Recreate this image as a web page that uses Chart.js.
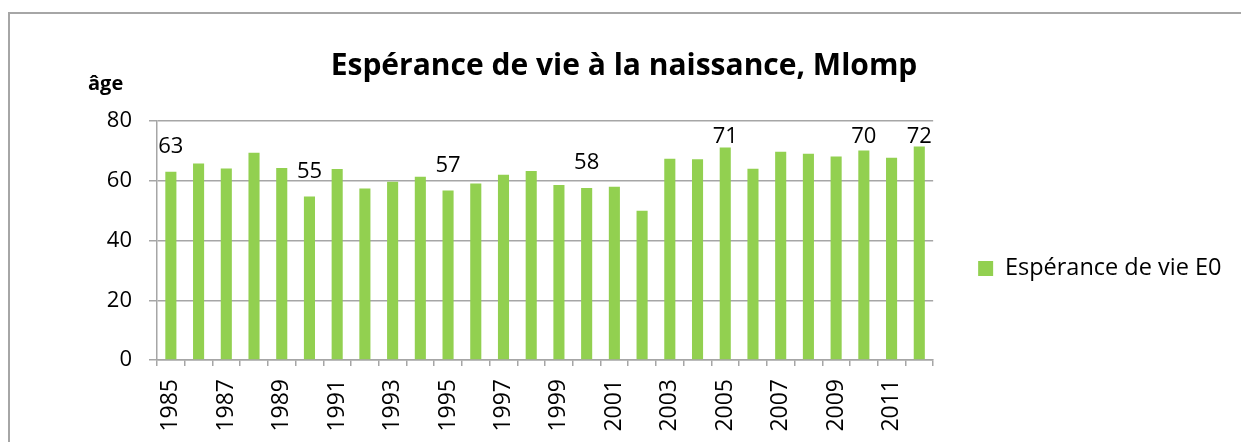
<!DOCTYPE html>
<html>
<head>
<meta charset="utf-8">
<script src="https://cdn.jsdelivr.net/npm/chart.js@4"></script>
<style>
    html, body { margin: 0; padding: 0; overflow: hidden; background: #fff; }
    #frame {
        position: absolute; left: 8px; top: 12px;
        width: 1300px; height: 500px;
        border: 2px solid #a6a6a6;
    }
    #wrap { position: absolute; left: 0; top: 0; width: 1241px; height: 442px; }
</style>
</head>
<body>
<div id="frame"></div>
<div id="wrap"><canvas id="chart"></canvas></div>
<script>
// values
const years = ['1985', '1986', '1987', '1988', '1989', '1990', '1991', '1992', '1993', '1994',
    '1995', '1996', '1997', '1998', '1999', '2000', '2001', '2002', '2003', '2004',
    '2005', '2006', '2007', '2008', '2009', '2010', '2011', '2012'];
const esperance = [63, 65.8, 64.1, 69.4, 64.3, 54.7, 63.9, 57.4, 59.7, 61.3,
    56.7, 59.1, 62, 63.3, 58.6, 57.6, 58, 50, 67.4, 67.2,
    71.1, 64, 69.7, 69, 68.1, 70.1, 67.7, 71.5];
const labelledYears = ['1985', '1990', '1995', '2000', '2005', '2010', '2012'];
const yTicks = [0, 20, 40, 60, 80];

const FONT = "'Open Sans', sans-serif";
const PAD_LEFT = 16.5, PAD_RIGHT = 9.5;

document.addEventListener('DOMContentLoaded', function () {

    // value labels above a few bars, like the spreadsheet's data labels
    const valueLabels = {
        id: 'valueLabels',
        afterDatasetsDraw(chart) {
            const ctx = chart.ctx;
            const meta = chart.getDatasetMeta(0);
            ctx.save();
            ctx.font = '22px ' + FONT;
            ctx.fillStyle = '#000';
            ctx.textAlign = 'center';
            ctx.textBaseline = 'alphabetic';
            meta.data.forEach((bar, i) => {
                if (!labelledYears.includes(years[i])) return;
                const y = Math.max(bar.y - 19, chart.chartArea.top + 22);
                ctx.fillText(String(Math.round(esperance[i])), bar.x, y);
            });
            ctx.restore();
        }
    };

    // the "âge" caption above the value axis
    const axisCaption = {
        id: 'axisCaption',
        afterDraw(chart) {
            const ctx = chart.ctx;
            ctx.save();
            ctx.font = 'bold 20px ' + FONT;
            ctx.fillStyle = '#000';
            ctx.textAlign = 'left';
            ctx.textBaseline = 'alphabetic';
            ctx.fillText('âge', chart.chartArea.left - 69, chart.chartArea.top - 31);
            ctx.restore();
        }
    };

    const data = {
        labels: years,
        datasets: [{
            label: 'Espérance de vie E0',
            data: esperance,
            backgroundColor: '#92d050',
            borderWidth: 0,
            barPercentage: 0.4,
            categoryPercentage: 1.0
        }]
    };

    const config = {
        type: 'bar',
        data: data,
        options: {
            responsive: false,
            animation: false,
            devicePixelRatio: 1,
            layout: { padding: { left: PAD_LEFT, right: PAD_RIGHT, top: 0, bottom: 0 } },
            plugins: {
                title: {
                    display: true,
                    text: 'Espérance de vie à la naissance, Mlomp',
                    color: '#000',
                    font: { family: FONT, size: 30, weight: 'bold' },
                    padding: { top: 48, bottom: 37 }
                },
                legend: {
                    position: 'right',
                    fullSize: false,
                    // empty title only pushes the single entry down a little
                    title: { display: true, text: ' ', font: { size: 1 }, padding: { top: 55, bottom: 0 } },
                    labels: {
                        boxWidth: 15,
                        boxHeight: 15,
                        padding: 45,
                        color: '#000',
                        font: { family: FONT, size: 23.5 }
                    }
                },
                tooltip: { enabled: false }
            },
            scales: {
                x: {
                    afterFit: function (scale) { scale.height = 82; },
                    grid: {
                        offset: true,
                        drawOnChartArea: false,
                        color: '#a6a6a6',
                        lineWidth: 1.5,
                        tickLength: 6
                    },
                    border: { color: '#a6a6a6', width: 1.5 },
                    ticks: {
                        autoSkip: false,
                        minRotation: 90,
                        maxRotation: 90,
                        padding: 13,
                        color: '#000',
                        font: { family: FONT, size: 23 },
                        callback: function (value, index) {
                            return index % 2 === 0 ? years[index] : '';
                        }
                    }
                },
                y: {
                    min: yTicks[0],
                    max: yTicks[yTicks.length - 1],
                    afterFit: function (scale) { scale.width = 157 - PAD_LEFT; },
                    grid: {
                        color: '#a6a6a6',
                        lineWidth: 1.5,
                        tickLength: 8
                    },
                    border: { color: '#a6a6a6', width: 1.5 },
                    ticks: {
                        stepSize: 20,
                        padding: 17,
                        color: '#000',
                        font: { family: FONT, size: 22 }
                    }
                }
            }
        },
        plugins: [valueLabels, axisCaption]
    };

    const canvas = document.getElementById('chart');
    canvas.width = 1241;
    canvas.height = 442;
    new Chart(canvas, config);

}, false);
</script>
</body>
</html>
